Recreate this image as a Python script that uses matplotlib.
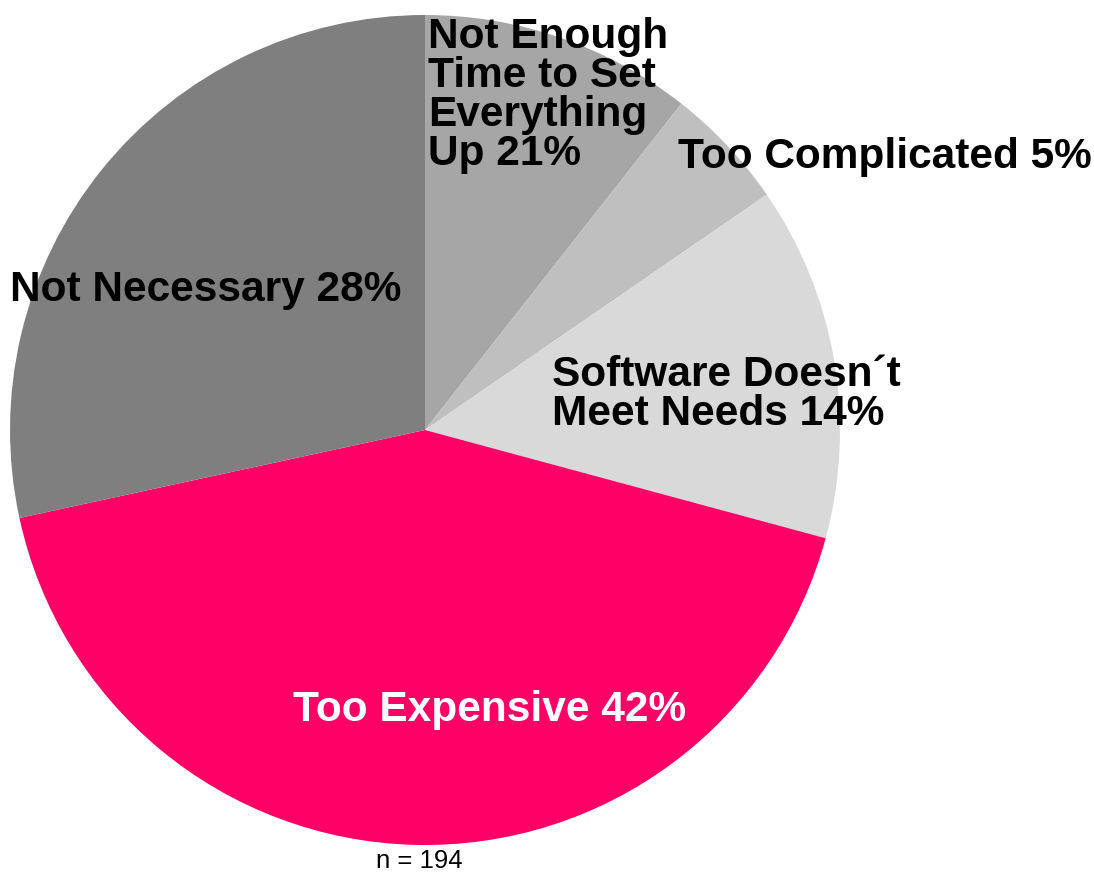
import matplotlib.pyplot as plt

categories = ['Not Enough Time to Set Everything Up', 'Too Complicated',
              "Software Doesn´t Meet Needs", 'Too Expensive', 'Not Necessary']
values = [10.6, 4.8, 13.8, 42.4, 28.4]
label_texts = ['Not Enough\nTime to Set\nEverything\nUp 21%', 'Too Complicated 5%',
               'Software Doesn´t\nMeet Needs 14%', 'Too Expensive 42%', 'Not Necessary 28%']
colors = ['#a6a6a6', '#bfbfbf', '#d9d9d9', '#ff0066', '#7f7f7f']
note = 'n = 194'

W, H = 1094, 874
fig = plt.figure(figsize=(W / 100, H / 100), dpi=100)
ax = fig.add_axes([10 / W, 29 / H, 830 / W, 830 / H])
ax.pie(values, colors=colors, startangle=90, counterclock=False,
       wedgeprops=dict(linewidth=0))
ax.set_xlim(-1, 1)
ax.set_ylim(-1, 1)
ax.set_aspect('equal')
ax.axis('off')

def px(x, y):
    return x / W, 1 - y / H

font = dict(family=['Liberation Sans', 'DejaVu Sans'], fontweight='bold', fontsize=30.5)

fig.text(*px(428, 17), label_texts[0], ha='left', va='top', linespacing=0.97, **font)
fig.text(*px(678, 157), label_texts[1], ha='left', va='center', **font)
fig.text(*px(552, 355), label_texts[2], ha='left', va='top', linespacing=0.97, **font)
fig.text(*px(490, 710), label_texts[3], ha='center', va='center', color='white', **font)
fig.text(*px(10, 290), label_texts[4], ha='left', va='center', **font)
fig.text(*px(419, 861), note, ha='center', va='center', fontsize=18.5,
         family=['Liberation Sans', 'DejaVu Sans'])

fig.savefig('out.png', dpi=100)
